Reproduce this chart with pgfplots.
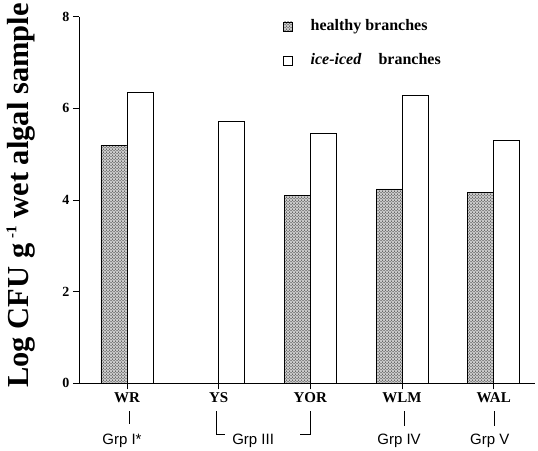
\documentclass[border=0pt]{standalone}
\usepackage{pgfplots}
\pgfplotsset{compat=1.18}
\usepackage{fontspec}
\setmainfont{Liberation Serif}
\newfontfamily\grpfont{Liberation Sans}
\usetikzlibrary{patterns}

% healthy vs ice-iced branches, log CFU per g
\pgfplotstableread{
x val
0 5.19
2 4.10
3 4.24
4 4.16
}\healthy
\pgfplotstableread{
x val
0 6.35
1 5.71
2 5.45
3 6.28
4 5.29
}\iced

\begin{document}
\begin{tikzpicture}
\begin{axis}[
    scale only axis,
    width=456pt, height=366.7pt,
    ybar=0pt, bar width=26pt,
    xmin=-0.523, xmax=4.45, ymin=0, ymax=8,
    axis lines=left,
    axis line style={-},
    x axis line style={line width=1pt},
    y axis line style={line width=0.6pt},
    xtick={0,1,2,3,4},
    xticklabels={WR,YS,YOR,WLM,WAL},
    ytick={0,2,4,6,8},
    tick align=outside,
    major tick length=6pt,
    tick style={black, line width=0.6pt},
    xticklabel style={font=\bfseries\fontsize{15}{16}\selectfont},
    yticklabel style={font=\bfseries\fontsize{14}{15}\selectfont},
    /pgf/number format/assume math mode=true,
    ylabel={Log CFU g\,\raisebox{0.9ex}{\fontsize{15}{15}\selectfont -1} wet algal sample},
    ylabel style={font=\bfseries\fontsize{30.5}{33}\selectfont,
        at={(axis description cs:-0.127,0.512)}, anchor=center},
    legend style={at={(axis description cs:0.4467,0.9926)}, anchor=north west,
        draw=none, fill=none, inner sep=0pt, row sep=20pt,
        font=\bfseries\fontsize{16}{17}\selectfont,
        nodes={inner sep=0pt, text height=11pt, text depth=3pt}},
    legend cell align=left,
    legend image code/.code={\draw[#1] (0pt,-4.5pt) rectangle (9pt,4.5pt);
        \path (27pt,0pt);},
    clip=false,
]
\addplot[draw=black, line width=0.8pt, fill=gray!40,
    postaction={pattern=crosshatch dots, pattern color=black}]
    table[x=x, y=val] {\healthy};
\addplot[draw=black, line width=0.8pt, fill=white]
    table[x=x, y=val] {\iced};
\legend{healthy branches, \textit{ice-iced}\hspace{17pt}branches}

% group annotations under the categories
\begin{scope}[line width=0.6pt]
\draw ([xshift=2pt, yshift=-28pt]axis cs:0,0) -- ++(0pt,-13pt);
\node[font=\grpfont\fontsize{15}{16}\selectfont, anchor=base]
    at ([xshift=-5pt, yshift=-61pt]axis cs:0,0) {Grp I*};
\draw ([xshift=-2.75pt, yshift=-28pt]axis cs:1,0) -- ++(0pt,-23pt) -- ++(9pt,0pt);
\node[font=\grpfont\fontsize{15}{16}\selectfont, anchor=base west]
    at ([xshift=10pt, yshift=-61pt]axis cs:1,0) {Grp III};
\draw ([xshift=-10pt, yshift=-51pt]axis cs:2,0) -- ++(10pt,0pt) -- ++(0pt,23pt);
\draw ([xshift=2.75pt, yshift=-28pt]axis cs:3,0) -- ++(0pt,-15pt);
\node[font=\grpfont\fontsize{15}{16}\selectfont, anchor=base]
    at ([xshift=-3pt, yshift=-61pt]axis cs:3,0) {Grp IV};
\draw ([xshift=1pt, yshift=-28pt]axis cs:4,0) -- ++(0pt,-15pt);
\node[font=\grpfont\fontsize{15}{16}\selectfont, anchor=base]
    at ([xshift=-4pt, yshift=-61pt]axis cs:4,0) {Grp V};
\end{scope}

% frame of the whole picture
\path (rel axis cs:-0.1732,-0.178) rectangle (rel axis cs:1.0066,1.0409);
\end{axis}
\end{tikzpicture}
\end{document}
